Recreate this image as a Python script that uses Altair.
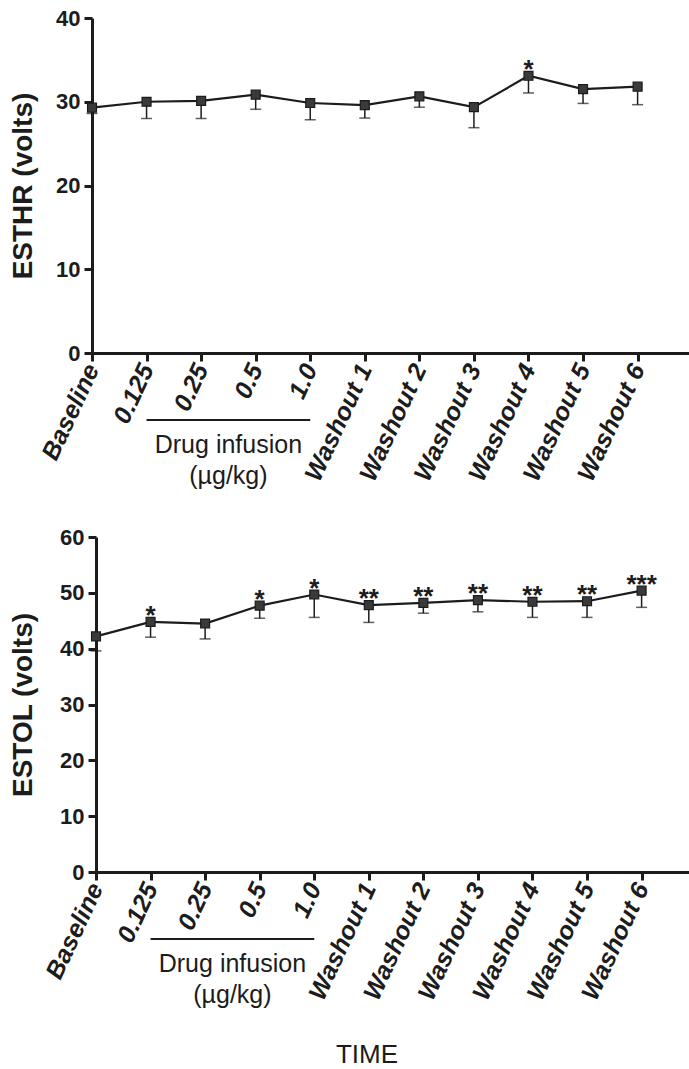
import altair as alt
import pandas as pd

# Time points along the x axis (index 0..10)
categories = ["Baseline", "0.125", "0.25", "0.5", "1.0",
              "Washout 1", "Washout 2", "Washout 3", "Washout 4", "Washout 5", "Washout 6"]

# ESTHR (volts): mean and lower end of the error bar
esthr_mean = [29.3, 30.0, 30.1, 30.85, 29.85, 29.6, 30.65, 29.35, 33.1, 31.5, 31.8]
esthr_low = [28.6, 28.0, 28.0, 29.1, 27.85, 28.05, 29.35, 26.9, 31.05, 29.8, 29.65]
esthr_sig = ["", "", "", "", "", "", "", "", "*", "", ""]

# ESTOL (volts): mean and lower end of the error bar
estol_mean = [42.2, 44.8, 44.5, 47.7, 49.7, 47.8, 48.2, 48.7, 48.4, 48.5, 50.4]
estol_low = [39.6, 42.05, 41.75, 45.45, 45.6, 44.7, 46.35, 46.6, 45.6, 45.6, 47.4]
estol_sig = ["", "*", "", "*", "*", "**", "**", "**", "**", "**", "***"]

FONT = "Liberation Sans"
INK = "#1c1c1c"
PLOT_W = 597
PLOT_H = 335
STEP = 54.56  # pixels per time point

label_expr = "[" + ",".join("'" + c + "'" for c in categories) + "][datum.value]"


def panel(mean, low, sig, ymax, ytitle, shift, title_x, frame=False, time_label=False):
    df = pd.DataFrame({"i": list(range(len(categories))), "mean": mean, "low": low, "sig": sig})
    lo = -shift / STEP
    xdom = [lo, lo + PLOT_W / STEP]

    x = alt.X("i:Q",
              scale=alt.Scale(domain=xdom, nice=False, zero=False),
              axis=alt.Axis(values=list(range(len(categories))), labelExpr=label_expr,
                            labelAngle=295, labelAlign="right", labelBaseline="middle",
                            labelFont=FONT, labelFontSize=25, labelFontStyle="italic",
                            labelFontWeight="bold", labelColor=INK, labelPadding=4,
                            labelFlush=False, labelOverlap=False, labelBound=False,
                            tickSize=8, tickWidth=3, tickColor=INK,
                            domainWidth=3, domainColor=INK, grid=False, title=None))
    y = alt.Y("mean:Q",
              scale=alt.Scale(domain=[0, ymax], nice=False, zero=True),
              axis=alt.Axis(values=list(range(0, ymax + 1, 10)), offset=-shift,
                            labelFont=FONT, labelFontSize=22, labelFontWeight="bold",
                            labelColor=INK, labelPadding=4,
                            tickSize=8, tickWidth=3, tickColor=INK,
                            domainWidth=3, domainColor=INK, grid=False,
                            title=ytitle, titleFont=FONT, titleFontSize=28,
                            titleFontWeight="bold", titleColor=INK, titleAngle=270,
                            titleX=title_x, titleY=PLOT_H / 2, titleAlign="center",
                            titleBaseline="middle"))

    base = alt.Chart(df)
    err = base.mark_rule(color=INK, strokeWidth=1.5).encode(x=x, y=alt.Y("low:Q"), y2="mean:Q")
    cap = base.mark_tick(orient="horizontal", color=INK, size=11, thickness=1.5).encode(
        x="i:Q", y="low:Q")
    line = base.mark_line(color=INK, strokeWidth=2.2).encode(x="i:Q", y=y)
    pts = base.mark_point(shape="square", filled=True, size=80, color="#3a3a3a",
                          stroke=INK, strokeWidth=1.2, opacity=1).encode(x="i:Q", y="mean:Q")
    stars = base.mark_text(font=FONT, fontSize=26, fontWeight="bold", color=INK,
                           baseline="alphabetic", dy=2).encode(
        x="i:Q", y="mean:Q", text="sig:N")

    one = alt.Chart(pd.DataFrame({"k": [0]}))
    bracket = one.mark_rule(color=INK, strokeWidth=2).encode(
        x=alt.datum(1), x2=alt.datum(4), y=alt.value(PLOT_H + 67))
    drug = one.mark_text(font=FONT, fontSize=25, color=INK, align="center",
                         baseline="alphabetic").encode(
        x=alt.datum(2.5), y=alt.value(PLOT_H + 100), text=alt.value("Drug infusion"))
    unit = one.mark_text(font=FONT, fontSize=25, color=INK, align="center",
                         baseline="alphabetic").encode(
        x=alt.datum(2.5), y=alt.value(PLOT_H + 131), text=alt.value("(\u00b5g/kg)"))

    layers = [err, cap, line, pts, stars, bracket, drug, unit]
    if time_label:
        layers.append(one.mark_text(font=FONT, fontSize=26, color=INK, align="center",
                                    baseline="middle").encode(
            x=alt.value(275), y=alt.value(PLOT_H + 183), text=alt.value("TIME")))
    if frame:
        # transparent guide that fixes the page's top-left corner
        layers.append(one.mark_rule(opacity=0, strokeOpacity=0).encode(
            x=alt.value(-92), x2=alt.value(PLOT_W), y=alt.value(-18)))
    return alt.layer(*layers).properties(width=PLOT_W, height=PLOT_H)


top = panel(esthr_mean, esthr_low, esthr_sig, 40, "ESTHR (volts)", 0, -69, frame=True)
bottom = panel(estol_mean, estol_low, estol_sig, 60, "ESTOL (volts)", 4, -73, time_label=True)

chart = alt.vconcat(top, bottom, spacing=184, bounds="flush").properties(
    padding=0, background="white"
).configure_view(stroke=None)

chart.save("out.html", embed_options={"renderer": "svg", "actions": False})
